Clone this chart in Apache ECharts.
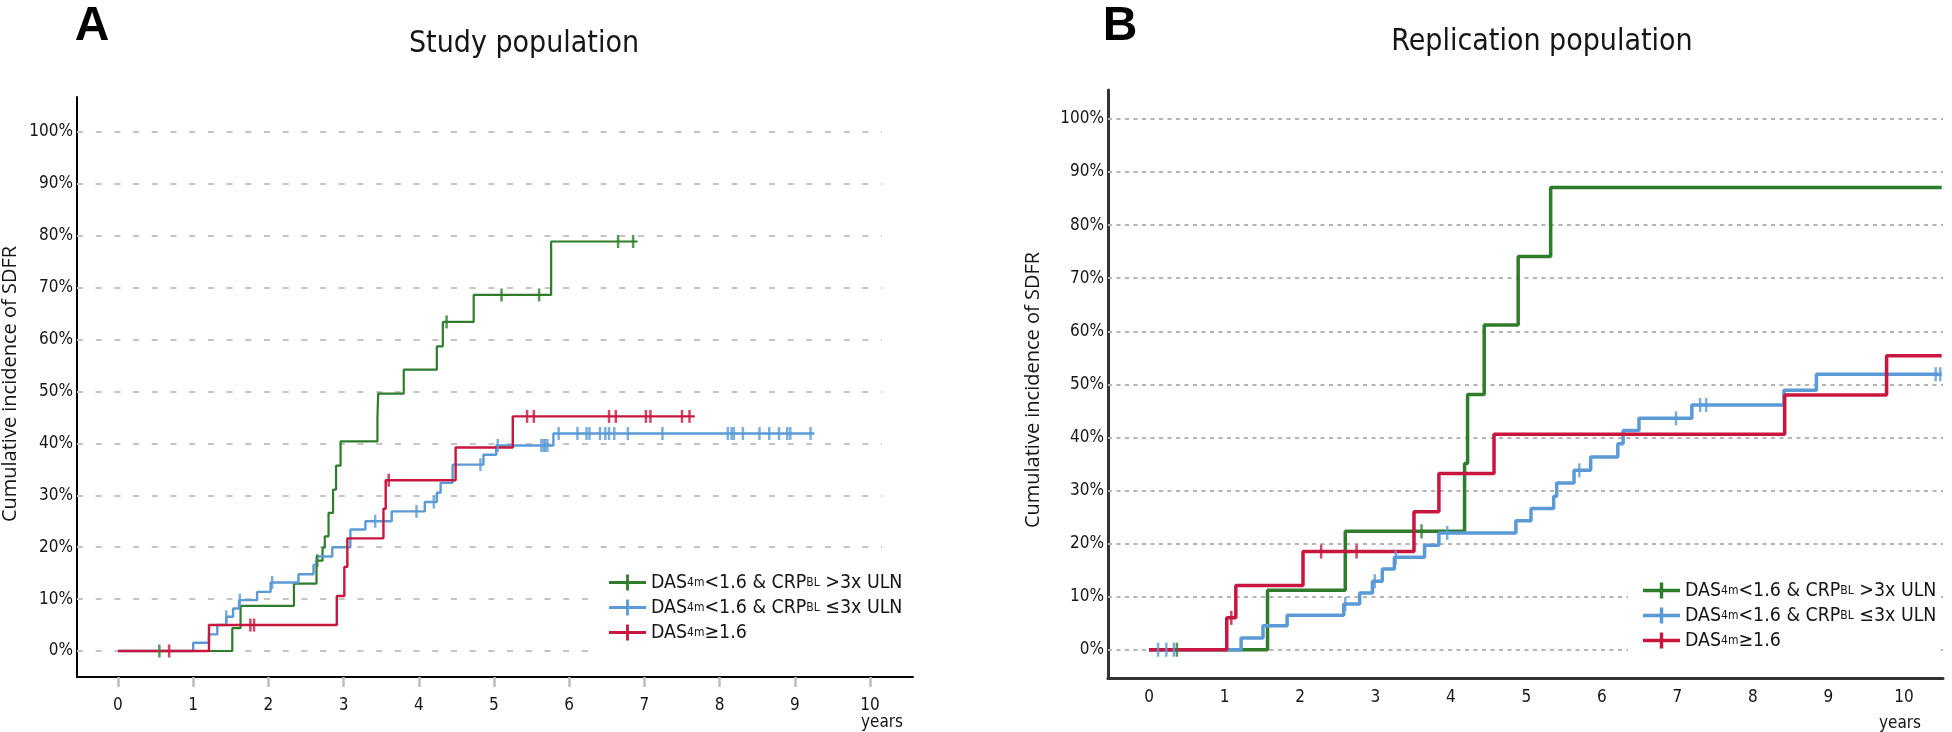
<!DOCTYPE html>
<html>
<head>
<meta charset="utf-8">
<script src="https://cdn.jsdelivr.net/npm/echarts@6/dist/echarts.min.js"></script>
<style>
  html, body { margin: 0; padding: 0; background: #fff; }
  #chart { width: 1952px; height: 732px; }
</style>
</head>
<body>
<div id="chart"></div>
<script>
// tick labels
const xTicks = [0, 1, 2, 3, 4, 5, 6, 7, 8, 9, 10];
const yTicks = [0, 10, 20, 30, 40, 50, 60, 70, 80, 90, 100];
const panelTitles = ['Study population', 'Replication population'];
const panelLetters = ['A', 'B'];
const yName = 'Cumulative incidence of SDFR';
const xName = 'years';

// legend text pieces: main, sub, main, sub, main
const groupLabels = [
  ['DAS', '4m', '<1.6 & CRP', 'BL', ' >3x ULN'],
  ['DAS', '4m', '<1.6 & CRP', 'BL', ' \u22643x ULN'],
  ['DAS', '4m', '\u22651.6', '', '']
];

// study population: [years, cumulative %] at each event
const studyGreen = [[0,0],[1.52,4.4],[1.63,8.7],[2.34,13.0],[2.64,17.4],[2.72,19.9],[2.75,22.1],[2.80,26.6],[2.86,31.1],[2.90,35.7],[2.96,40.4],[3.45,45.0],[3.46,49.6],[3.80,54.2],[4.24,58.7],[4.32,63.4],[4.73,68.6],[5.76,78.9]];
const studyGreenEnd = 6.91;
const studyGreenCensor = [0.55, 2.65, 4.37, 5.10, 5.60, 6.65, 6.85];

const studyBlue = [[0,0],[1.00,1.6],[1.21,3.2],[1.32,5.0],[1.44,6.6],[1.53,8.2],[1.61,9.8],[1.85,11.4],[2.03,13.2],[2.40,14.8],[2.60,16.6],[2.64,18.2],[2.85,20.0],[3.09,23.4],[3.29,25.0],[3.64,26.9],[4.08,28.7],[4.24,30.5],[4.29,32.4],[4.45,35.9],[4.86,37.8],[5.03,39.6],[5.79,41.9]];
const studyBlueEnd = 9.26;
const studyBlueCensor = [1.44, 1.62, 2.05, 3.42, 3.97, 4.20, 4.82, 5.05, 5.63, 5.66, 5.68, 5.71, 5.86, 6.11, 6.23, 6.27, 6.41, 6.48, 6.53, 6.60, 6.78, 7.24, 8.11, 8.16, 8.19, 8.31, 8.53, 8.66, 8.79, 8.90, 8.94, 9.21];

const studyRed = [[0,0],[1.21,5.0],[2.91,10.6],[3.01,16.2],[3.05,21.7],[3.53,27.4],[3.56,32.9],[4.49,39.2],[5.25,45.2]];
const studyRedEnd = 7.67;
const studyRedCensor = [0.68, 1.76, 1.81, 3.60, 5.44, 5.53, 6.53, 6.62, 7.02, 7.08, 7.50, 7.60];

// replication population
const replGreen = [[0,0],[1.57,11.2],[2.60,22.3],[4.18,35.1],[4.22,48.1],[4.44,61.2],[4.89,74.1],[5.32,87.1]];
const replGreenEnd = 10.5;
const replGreenCensor = [0.37, 3.61];

const replBlue = [[0,0],[1.22,2.2],[1.51,4.5],[1.83,6.5],[2.58,8.6],[2.79,10.7],[2.96,12.9],[3.09,15.2],[3.25,17.4],[3.65,19.7],[3.84,22.0],[4.86,24.3],[5.06,26.6],[5.36,28.9],[5.40,31.4],[5.63,33.8],[5.85,36.3],[6.21,38.8],[6.28,41.3],[6.49,43.6],[7.19,46.1],[8.41,48.9],[8.84,51.9]];
const replBlueEnd = 10.5;
const replBlueCensor = [0.12, 0.23, 0.33, 2.60, 2.99, 3.27, 3.95, 5.70, 6.98, 7.30, 7.38, 10.42, 10.48];

const replRed = [[0,0],[1.03,6.0],[1.15,12.1],[2.04,18.5],[3.51,26.0],[3.84,33.2],[4.57,40.6],[8.42,48.0],[9.77,55.4]];
const replRedEnd = 10.5;
const replRedCensor = [1.09, 2.28, 2.75];

const GREEN = '#2f7d2c';
const BLUE = '#5b9ad6';
const RED = '#c8163f';
const NARROW = "'Liberation Sans Narrow', 'Arial Narrow', 'DejaVu Sans Condensed', sans-serif";
const TEXT = '#151515';

function yAt(events, t) {
  let y = 0;
  for (const [x, v] of events) {
    if (x <= t) y = v;
  }
  return y;
}

function kmSeries(name, events, end, censors, color, width, idx, tickSize) {
  const last = events[events.length - 1][1];
  return [
    {
      type: 'line', name, xAxisIndex: idx, yAxisIndex: idx,
      step: 'end', symbol: 'none', silent: true, clip: false, z: 3,
      data: events.concat([[end, last]]),
      lineStyle: { color, width },
      itemStyle: { color }
    },
    {
      type: 'scatter', xAxisIndex: idx, yAxisIndex: idx,
      symbol: 'rect', symbolSize: tickSize, silent: true, clip: false, z: 4,
      data: censors.map(t => [t, yAt(events, t)]),
      itemStyle: { color }
    }
  ];
}

function gridLines(idx, xFrom, xTo, dash, color) {
  return {
    type: 'line', xAxisIndex: idx, yAxisIndex: idx, data: [], silent: true,
    markLine: {
      silent: true, z: 1, animation: false,
      symbol: ['none', 'none'],
      label: { show: false },
      emphasis: { disabled: true },
      lineStyle: { color, width: 2, type: dash },
      data: yTicks.map(v => [{ coord: [xFrom, v] }, { coord: [xTo, v] }])
    }
  };
}

function legendText(name) {
  const p = groupLabels[Number(name.slice(1))];
  let s = '{m|' + p[0] + '}{s|' + p[1] + '}{m|' + p[2] + '}';
  if (p[3]) s += '{s|' + p[3] + '}';
  if (p[4]) s += '{m|' + p[4] + '}';
  return s;
}

const legendTextStyle = {
  fontFamily: NARROW, fontSize: 19.4, color: TEXT,
  rich: {
    m: { fontFamily: NARROW, fontSize: 19.4, color: TEXT, lineHeight: 20 },
    s: { fontFamily: NARROW, fontSize: 12, color: TEXT, lineHeight: 20 }
  }
};

function legendIcon(thick) {
  const a = 8 - thick / 2, b = 8 + thick / 2;
  const c = 18.5 - thick / 2, d = 18.5 + thick / 2;
  return 'path://M0,' + a + 'H37V' + b + 'H0Z M' + c + ',0H' + d + 'V16H' + c + 'Z';
}

function xAxisOpt(idx, min, max, showTick) {
  return {
    type: 'value', gridIndex: idx, min, max,
    axisLine: { show: true, onZero: false, lineStyle: { color: idx ? '#333' : '#000', width: idx ? 3 : 2 } },
    axisTick: { show: showTick, customValues: xTicks, length: 10, lineStyle: { color: '#bdbdbd', width: 2.5 } },
    axisLabel: { customValues: xTicks, margin: idx ? 11 : 20, fontFamily: NARROW, fontSize: 17, color: TEXT },
    splitLine: { show: false }
  };
}

function yAxisOpt(idx, min, max) {
  return {
    type: 'value', gridIndex: idx, min, max,
    axisLine: { show: true, onZero: false, lineStyle: { color: idx ? '#333' : '#000', width: idx ? 3 : 2 } },
    axisTick: { show: false },
    axisLabel: { customValues: yTicks, margin: 4, fontFamily: NARROW, fontSize: 17, color: TEXT, formatter: v => v + '%' },
    splitLine: { show: false }
  };
}

const chart = echarts.init(document.getElementById('chart'), null, { renderer: 'canvas' });

const series = [].concat(
  gridLines(0, -0.545, 10.16, [6, 12.7], '#c4c4c4'),
  gridLines(1, -0.543, 10.517, [4, 4.5], '#b4b4b4'),
  kmSeries('a0', studyGreen, studyGreenEnd, studyGreenCensor, GREEN, 2.2, 0, [2.5, 13]),
  kmSeries('a1', studyBlue, studyBlueEnd, studyBlueCensor, BLUE, 2.4, 0, [2.5, 13]),
  kmSeries('a2', studyRed, studyRedEnd, studyRedCensor, RED, 2.4, 0, [2.5, 13]),
  kmSeries('b0', replGreen, replGreenEnd, replGreenCensor, GREEN, 3.5, 1, [2.5, 14]),
  kmSeries('b1', replBlue, replBlueEnd, replBlueCensor, BLUE, 3.5, 1, [2.5, 14]),
  kmSeries('b2', replRed, replRedEnd, replRedCensor, RED, 3.5, 1, [2.5, 14])
);

const graphic = [
  { type: 'text', x: 92, y: 27, style: { text: panelLetters[0], fontSize: 48, fontWeight: 'bold', fontFamily: 'Liberation Sans', fill: '#000', align: 'center', verticalAlign: 'middle' } },
  { type: 'text', x: 1120, y: 27, style: { text: panelLetters[1], fontSize: 48, fontWeight: 'bold', fontFamily: 'Liberation Sans', fill: '#000', align: 'center', verticalAlign: 'middle' } },
  { type: 'text', x: 524, y: 44, style: { text: panelTitles[0], fontSize: 30, fontFamily: NARROW, fill: TEXT, align: 'center', verticalAlign: 'middle' } },
  { type: 'text', x: 1542, y: 42, style: { text: panelTitles[1], fontSize: 30, fontFamily: NARROW, fill: TEXT, align: 'center', verticalAlign: 'middle' } },
  { type: 'text', x: 10, y: 384, rotation: Math.PI / 2, style: { text: yName, fontSize: 20, fontFamily: "'Open Sans', sans-serif", fill: TEXT, align: 'center', verticalAlign: 'middle' } },
  { type: 'text', x: 1033, y: 390, rotation: Math.PI / 2, style: { text: yName, fontSize: 20, fontFamily: "'Open Sans', sans-serif", fill: TEXT, align: 'center', verticalAlign: 'middle' } },
  { type: 'text', x: 882, y: 723, style: { text: xName, fontSize: 17, fontFamily: NARROW, fill: TEXT, align: 'center', verticalAlign: 'middle' } },
  { type: 'text', x: 1900, y: 724, style: { text: xName, fontSize: 17, fontFamily: NARROW, fill: TEXT, align: 'center', verticalAlign: 'middle' } }
];

chart.setOption({
  animation: false,
  backgroundColor: '#fff',
  grid: [
    { left: 77, top: 97, width: 836, height: 580 },
    { left: 1108, top: 90, width: 835, height: 588 }
  ],
  xAxis: [xAxisOpt(0, -0.545, 10.572, true), xAxisOpt(1, -0.543, 10.517, false)],
  yAxis: [yAxisOpt(0, -5.01, 106.74), yAxisOpt(1, -5.33, 105.46)],
  legend: [
    {
      data: ['a0', 'a1', 'a2'], orient: 'vertical', left: 590, top: 567,
      padding: [6, 14, 14, 19], itemGap: 6, itemWidth: 37, itemHeight: 16,
      icon: legendIcon(2.8), itemStyle: { borderWidth: 0 },
      backgroundColor: '#fff', selectedMode: false,
      formatter: legendText, textStyle: legendTextStyle
    },
    {
      data: ['b0', 'b1', 'b2'], orient: 'vertical', left: 1628, top: 575,
      padding: [6, 4, 10, 15], itemGap: 6, itemWidth: 37, itemHeight: 16,
      icon: legendIcon(3.4), itemStyle: { borderWidth: 0 },
      backgroundColor: '#fff', selectedMode: false,
      formatter: legendText, textStyle: legendTextStyle
    }
  ],
  graphic,
  series
});
</script>
</body>
</html>
